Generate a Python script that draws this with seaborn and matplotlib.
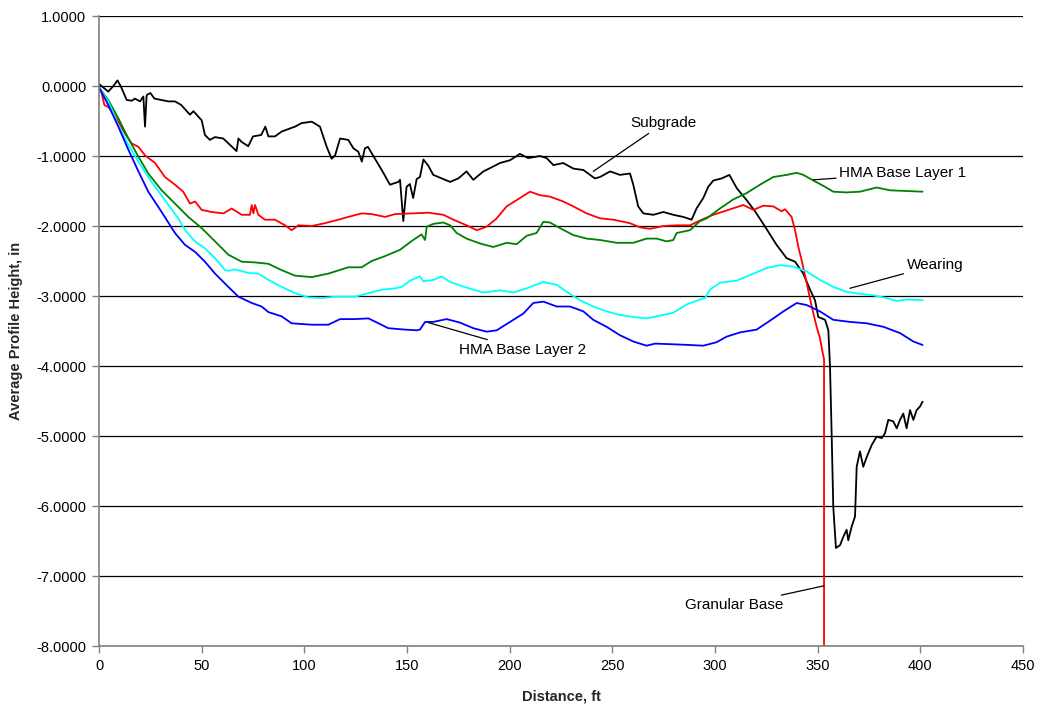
import matplotlib
matplotlib.use("Agg")
import matplotlib.pyplot as plt
import seaborn as sns
import pandas as pd
from matplotlib.ticker import FuncFormatter, MultipleLocator

# ---------------- data ----------------
subgrade_x = [0, 4.5, 7, 9, 10.7, 13.5, 16, 17.5, 20, 21.6, 22.4, 23.2, 25, 27, 30.5, 33.8, 37, 40, 44.3, 46,
              50, 51.6, 54, 56.5, 60.5, 63, 67, 67.9, 69.5, 72.7, 75, 79, 81, 82.5, 85.7, 89, 95.5, 98.7, 103.6,
              107.6, 110.9, 113.3, 115, 117.4, 121.4, 123.9, 126.3, 128, 129.5, 131, 133.6, 137.7, 141.7, 145.8,
              146.6, 148.2, 149.8, 151.4, 153, 154.7, 156.3, 158, 160.4, 162.8, 167.7, 171, 175, 179, 182.3,
              187.2, 192, 195.3, 200.2, 205, 209, 214.8, 218, 221.3, 226.1, 231, 235.9, 241.5, 244, 248.9,
              253.7, 258.6, 260.2, 262.6, 265.1, 270, 274.8, 279.7, 284.5, 288.6, 291, 294.3, 296.7, 299.2,
              303.3, 307, 310.6, 315.4, 319.5, 324.4, 330, 334.9, 339, 343, 346.3, 348.7, 350.3, 353.6, 355.2,
              356, 356.8, 357.6, 358.9, 360.9, 362.5, 364.1, 364.9, 366.5, 368.2, 369, 370.6, 372.2, 373.9,
              376.3, 378.7, 381.2, 382.8, 384.4, 386.8, 388.5, 390.1, 391.7, 393.3, 395, 396.6, 398.2, 399.8, 401.1]
subgrade_y = [0.03, -0.08, 0.0, 0.08, -0.01, -0.2, -0.21, -0.18, -0.22, -0.15, -0.58, -0.13, -0.1, -0.18, -0.2,
              -0.22, -0.22, -0.27, -0.41, -0.36, -0.49, -0.7, -0.77, -0.73, -0.75, -0.82, -0.93, -0.75, -0.8,
              -0.86, -0.72, -0.7, -0.58, -0.72, -0.72, -0.65, -0.58, -0.53, -0.51, -0.58, -0.87, -1.04, -0.99,
              -0.75, -0.77, -0.89, -0.94, -1.08, -0.89, -0.87, -1.0, -1.2, -1.41, -1.37, -1.34, -1.93, -1.44,
              -1.4, -1.6, -1.33, -1.3, -1.05, -1.14, -1.27, -1.33, -1.37, -1.32, -1.22, -1.34, -1.22, -1.15,
              -1.1, -1.06, -0.97, -1.03, -1.0, -1.03, -1.13, -1.1, -1.18, -1.2, -1.32, -1.3, -1.22, -1.27,
              -1.25, -1.41, -1.72, -1.82, -1.84, -1.8, -1.84, -1.87, -1.91, -1.75, -1.6, -1.44, -1.35, -1.32,
              -1.27, -1.46, -1.63, -1.79, -2.01, -2.27, -2.46, -2.51, -2.68, -2.91, -3.06, -3.3, -3.34, -3.49,
              -4.0, -4.96, -6.01, -6.6, -6.56, -6.44, -6.34, -6.49, -6.3, -6.15, -5.44, -5.22, -5.44, -5.3,
              -5.13, -5.01, -5.03, -4.96, -4.77, -4.79, -4.89, -4.77, -4.68, -4.89, -4.63, -4.77, -4.63, -4.58, -4.51]

granular_x = [0, 1.3, 2.6, 4.5, 7, 9.4, 12.7, 15.9, 19.2, 22.4, 27.3, 32.1, 37, 41, 44.3, 46.8, 50, 54.9, 60.6,
              64.6, 69.5, 73.5, 74.4, 75.2, 76, 77.6, 80.8, 85.7, 90.6, 93.8, 97.1, 103.6, 110, 116.6, 121.4,
              127.9, 132.8, 139.3, 144.2, 152.3, 160.4, 167.7, 172.6, 179, 184, 188.8, 193.7, 198.5, 203.4,
              209.9, 214.8, 219.6, 226.1, 231, 237.5, 244, 250.5, 258.6, 263.5, 268.3, 274.9, 281.4, 287.8,
              293.5, 299.2, 306.5, 313.8, 318.7, 323.5, 328.4, 332.5, 334.1, 337.3, 339, 340.6, 342.2, 344.7,
              347.1, 349.5, 351.1, 352.5, 353.1, 353.1]
granular_y = [-0.02, -0.1, -0.27, -0.3, -0.39, -0.51, -0.68, -0.82, -0.87, -0.99, -1.1, -1.3, -1.41, -1.51,
              -1.68, -1.65, -1.77, -1.8, -1.82, -1.75, -1.84, -1.84, -1.7, -1.82, -1.7, -1.84, -1.91, -1.91,
              -1.99, -2.06, -1.99, -2.0, -1.96, -1.91, -1.87, -1.82, -1.83, -1.87, -1.83, -1.82, -1.81, -1.84,
              -1.91, -1.99, -2.06, -2.01, -1.89, -1.72, -1.63, -1.51, -1.56, -1.58, -1.65, -1.72, -1.82, -1.89,
              -1.91, -1.96, -2.02, -2.04, -2.0, -1.99, -1.99, -1.91, -1.84, -1.77, -1.7, -1.77, -1.71, -1.72,
              -1.79, -1.76, -1.87, -2.06, -2.3, -2.49, -2.82, -3.15, -3.44, -3.6, -3.82, -3.9, -8.0]

hma1_x = [0, 4.5, 9.4, 14.3, 19.2, 24, 30.5, 37, 43.5, 50, 56.5, 63, 69.5, 76, 82.5, 88.9, 95.5, 103.6, 111.7,
          121.4, 127.9, 132.8, 139.3, 146.6, 153, 157.1, 158.8, 159.6, 162.8, 167.7, 171, 174.2, 179, 185.6,
          192, 198.5, 203.4, 208.3, 213.1, 216.4, 219.6, 224.5, 231, 237.5, 244, 252.1, 260.2, 266.7, 271.6,
          276.4, 279.7, 281.3, 287.8, 292.7, 296, 302.4, 308.9, 315.4, 321.9, 328.4, 334.9, 339.8, 343, 347.9,
          353.6, 357.6, 364.1, 370.6, 378.7, 385.2, 393.3, 401.1]
hma1_y = [-0.02, -0.2, -0.46, -0.75, -1.01, -1.25, -1.49, -1.68, -1.87, -2.03, -2.22, -2.41, -2.51, -2.52,
          -2.54, -2.63, -2.71, -2.73, -2.68, -2.59, -2.59, -2.5, -2.43, -2.34, -2.2, -2.12, -2.2, -2.01, -1.97,
          -1.95, -1.99, -2.1, -2.18, -2.25, -2.3, -2.24, -2.26, -2.14, -2.1, -1.94, -1.95, -2.03, -2.13, -2.18,
          -2.2, -2.24, -2.24, -2.18, -2.18, -2.22, -2.2, -2.1, -2.06, -1.93, -1.89, -1.75, -1.62, -1.53, -1.41,
          -1.3, -1.27, -1.24, -1.27, -1.35, -1.44, -1.51, -1.52, -1.51, -1.45, -1.49, -1.50, -1.51]

wearing_x = [0, 4.5, 9.4, 14.3, 19.2, 25.6, 32.1, 38.6, 41.9, 46.8, 51.6, 56.5, 61.4, 63, 66.2, 72.7, 77.6,
             82.5, 89, 95.5, 102, 108.4, 114.9, 124.7, 131.2, 137.7, 144.2, 147.4, 151.5, 156.3, 158, 162.8,
             166.9, 171, 179, 187.2, 195.3, 201.8, 208.3, 216.4, 222.9, 227.8, 234.2, 240.7, 247.2, 253.7,
             260.2, 266.7, 273.2, 279.7, 286.2, 292.7, 295.1, 297.5, 302.4, 310.6, 318.7, 325.2, 331.7, 338.2,
             344.7, 351.1, 357.6, 364.1, 370.6, 377.1, 383.6, 388.5, 393.3, 401.1]
wearing_y = [-0.02, -0.22, -0.56, -0.84, -1.08, -1.37, -1.63, -1.89, -2.06, -2.22, -2.32, -2.46, -2.63, -2.64,
             -2.62, -2.67, -2.68, -2.77, -2.87, -2.96, -3.02, -3.03, -3.01, -3.01, -2.96, -2.91, -2.89, -2.87,
             -2.78, -2.72, -2.79, -2.77, -2.72, -2.8, -2.88, -2.95, -2.92, -2.95, -2.89, -2.8, -2.84, -2.94,
             -3.06, -3.15, -3.22, -3.27, -3.3, -3.32, -3.28, -3.24, -3.12, -3.05, -3.03, -2.91, -2.81, -2.78,
             -2.68, -2.6, -2.56, -2.58, -2.65, -2.77, -2.87, -2.94, -2.97, -2.99, -3.03, -3.07, -3.05, -3.06]

hma2_x = [0, 4.5, 9.4, 14.3, 19.2, 24, 30.5, 37, 41.9, 46.8, 51.6, 56.5, 63, 67.9, 74.4, 79.2, 82.5, 88.9, 93.8,
          103.6, 111.7, 117.4, 124.7, 131.2, 136.1, 140.9, 149, 154.7, 156.3, 158.8, 162.8, 169.3, 175.8, 182.3,
          188.8, 193.7, 200.2, 206.7, 211.5, 216.4, 222.9, 229.4, 235.9, 240.7, 247.2, 253.7, 260.2, 266.7,
          270.8, 279.7, 287.8, 294.3, 300.8, 305.7, 312.2, 320.3, 328.4, 333.3, 339.8, 344.7, 351.1, 357.6,
          365.7, 373.9, 382, 390.1, 396.6, 401.1]
hma2_y = [-0.02, -0.27, -0.58, -0.91, -1.22, -1.51, -1.8, -2.1, -2.27, -2.37, -2.51, -2.68, -2.87, -3.01, -3.1,
          -3.15, -3.23, -3.29, -3.39, -3.41, -3.41, -3.33, -3.33, -3.32, -3.39, -3.46, -3.48, -3.49, -3.48,
          -3.37, -3.37, -3.33, -3.38, -3.46, -3.51, -3.49, -3.37, -3.25, -3.1, -3.08, -3.15, -3.15, -3.22,
          -3.34, -3.44, -3.56, -3.65, -3.71, -3.68, -3.69, -3.7, -3.71, -3.66, -3.58, -3.52, -3.48, -3.32,
          -3.22, -3.1, -3.13, -3.22, -3.34, -3.37, -3.39, -3.44, -3.53, -3.65, -3.7]

series_names = ["Subgrade", "Granular Base", "HMA Base Layer 1", "Wearing", "HMA Base Layer 2"]
series_colors = ["#000000", "#FF0000", "#008000", "#00FFFF", "#0000FF"]
x_ticks = [0, 50, 100, 150, 200, 250, 300, 350, 400, 450]

# ---------------- plot ----------------
sns.set_theme(style="white")
plt.rcParams["font.family"] = ["Liberation Sans", "DejaVu Sans"]

fig = plt.figure(figsize=(10.45, 7.11), dpi=100)
ax = fig.add_axes([99 / 1045, 1 - 646 / 711, (1023 - 99) / 1045, (646 - 16) / 711])

all_x = [subgrade_x, granular_x, hma1_x, wearing_x, hma2_x]
all_y = [subgrade_y, granular_y, hma1_y, wearing_y, hma2_y]
for name, xs, ys, col in zip(series_names, all_x, all_y, series_colors):
    df = pd.DataFrame({"Distance": xs, "Height": ys})
    sns.lineplot(data=df, x="Distance", y="Height", ax=ax, color=col, linewidth=1.3,
                 estimator=None, sort=False, legend=False)

ax.set_xlim(0, 450)
ax.set_ylim(-8, 1)
ax.set_xticks(x_ticks)
ax.yaxis.set_major_locator(MultipleLocator(1.0))
ax.yaxis.set_major_formatter(FuncFormatter(lambda v, p: "{:.4f}".format(v + 0.0 if abs(v) > 1e-9 else 0.0)))

ax.grid(axis="y", color="black", linewidth=0.9)
ax.grid(axis="x", visible=False)
ax.set_axisbelow(True)

for s in ["top", "right"]:
    ax.spines[s].set_visible(False)
for s in ["left", "bottom"]:
    ax.spines[s].set_color("#808080")
    ax.spines[s].set_linewidth(1.2)

ax.tick_params(axis="both", which="major", direction="out", length=5, width=1, color="#808080",
               labelsize=10.5, labelcolor="black", pad=4)
ax.tick_params(axis="x", bottom=True)
ax.tick_params(axis="y", left=True)

ax.set_xlabel("Distance, ft", fontsize=10.5, fontweight="bold", labelpad=12)
ax.set_ylabel("Average Profile Height, in", fontsize=10.5, fontweight="bold", labelpad=10)

# annotations with leader lines
ann_kw = dict(fontsize=11, color="black", va="center",
              arrowprops=dict(arrowstyle="-", color="black", lw=0.9, shrinkA=0, shrinkB=0))
ax.annotate("Subgrade", xy=(240.7, -1.22), xytext=(258.9, -0.53), ha="left", **ann_kw)
ax.annotate("HMA Base Layer 1", xy=(347.9, -1.34), xytext=(360.5, -1.25), ha="left", **ann_kw)
ax.annotate("Wearing", xy=(365.7, -2.89), xytext=(393.4, -2.56), ha="left", **ann_kw)
ax.annotate("HMA Base Layer 2", xy=(160.4, -3.38), xytext=(175.5, -3.77), ha="left", **ann_kw)
ax.annotate("Granular Base", xy=(353.1, -7.14), xytext=(333.3, -7.42), ha="right", **ann_kw)

fig.savefig("out.png", dpi=100)
